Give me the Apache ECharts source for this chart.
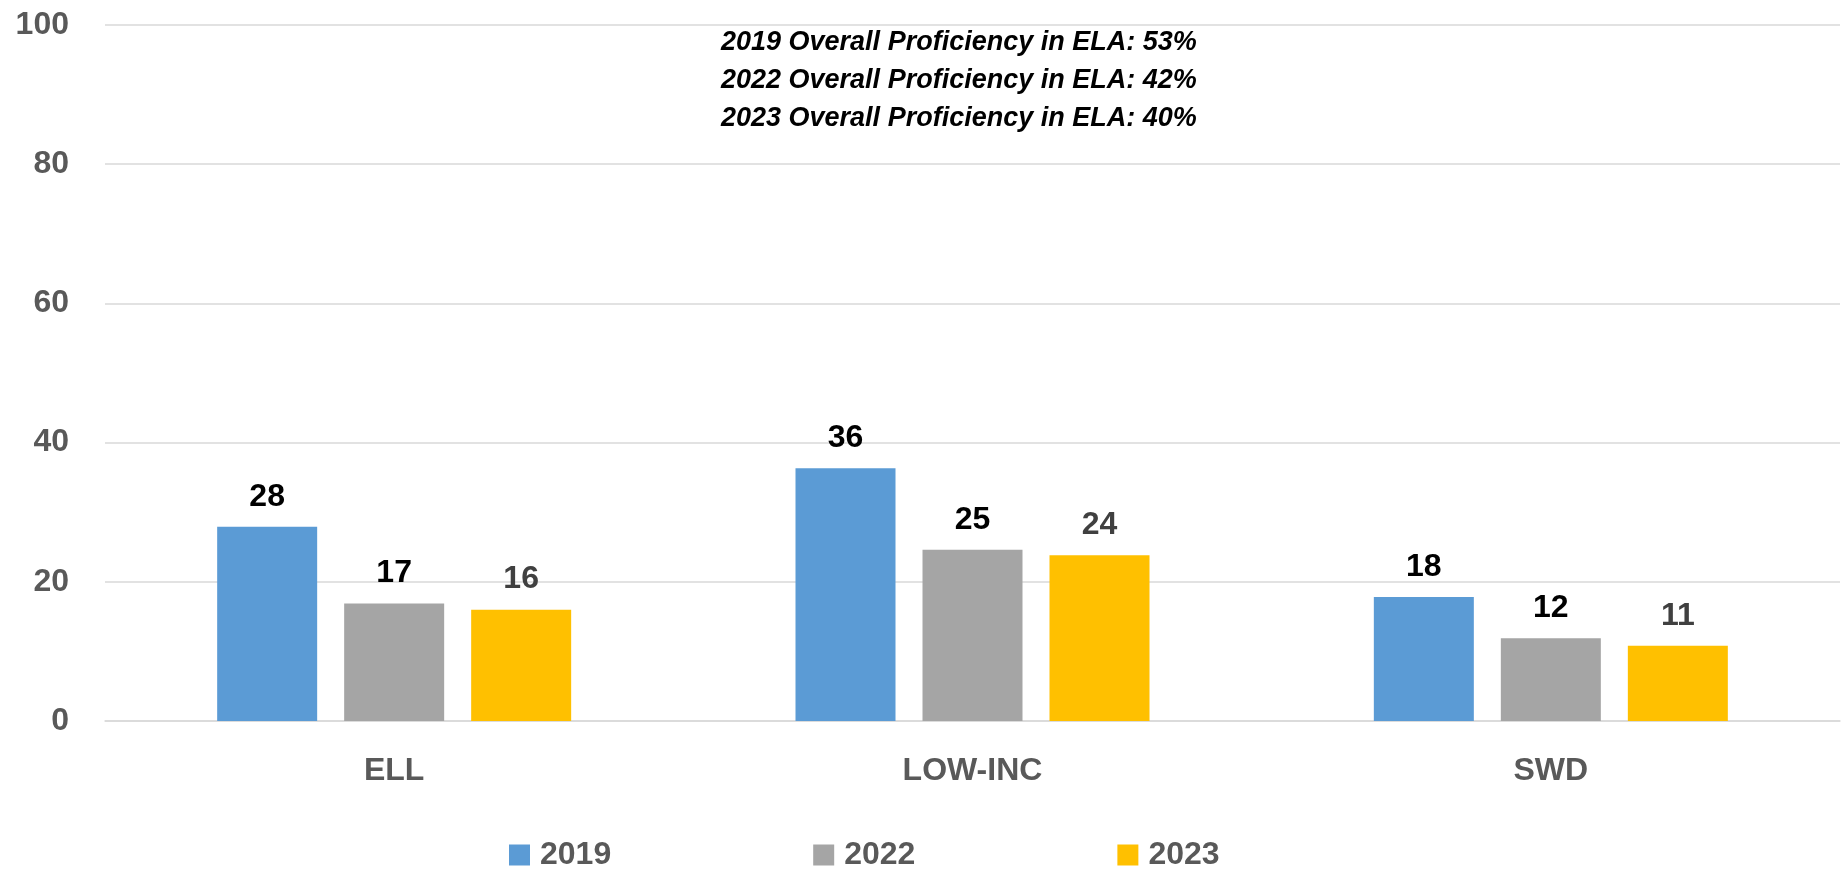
<!DOCTYPE html>
<html>
<head>
<meta charset="utf-8">
<title>ELA Proficiency by Subgroup</title>
<script src="https://cdn.jsdelivr.net/npm/echarts@6/dist/echarts.min.js"></script>
<style>
  html, body { margin: 0; padding: 0; background: #fff; }
  #chart { width: 1845px; height: 871px; }
</style>
</head>
<body>
<div id="chart"></div>
<script>
// categories / series
const categories = ['ELL', 'LOW-INC', 'SWD']
const years = ['2019', '2022', '2023']
const values2019 = [27.9, 36.3, 17.8]
const values2022 = [16.9, 24.6, 11.9]
const values2023 = [16.0, 23.8, 10.8]
const noteLines = [
  '2019 Overall Proficiency in ELA: 53%',
  '2022 Overall Proficiency in ELA: 42%',
  '2023 Overall Proficiency in ELA: 40%'
]

const colors = ['#5B9BD5', '#A5A5A5', '#FFC000']
const labelColors = ['#000000', '#000000', '#404040']
const font = "'Liberation Sans', Arial, sans-serif"

const chart = echarts.init(document.getElementById('chart'))

const seriesData = [values2019, values2022, values2023]
const series = years.map(function(y, i) {
  return {
    name: y,
    type: 'bar',
    data: seriesData[i],
    barWidth: 100,
    barGap: '27%',
    itemStyle: { color: colors[i] },
    label: {
      show: true,
      position: 'top',
      distance: 14,
      color: labelColors[i],
      fontSize: 32,
      fontWeight: 'bold',
      fontFamily: font,
      formatter: function(p) { return Math.round(p.value) }
    }
  }
})

const option = {
  animation: false,
  // the three overall-proficiency notes, centred a bit right of the middle
  graphic: [{
    type: 'text',
    left: 961 - 240,
    top: 24,
    style: {
      text: noteLines.join('\n'),
      width: 480,
      align: 'center',
      fill: '#000',
      font: "italic bold 27px 'Liberation Sans', sans-serif",
      lineHeight: 38
    }
  }],
  legend: {
    data: years,
    left: 504,
    top: 834,
    itemWidth: 21,
    itemHeight: 21,
    itemGap: 202,
    icon: 'rect',
    textStyle: {
      fontSize: 32,
      fontWeight: 'bold',
      color: '#595959',
      fontFamily: font,
      padding: [0, 0, 0, 5]
    }
  },
  grid: {
    left: 105,
    right: 5,
    top: 25,
    bottom: 150
  },
  xAxis: {
    type: 'category',
    data: categories,
    axisTick: { show: false },
    axisLine: { lineStyle: { color: '#d9d9d9', width: 1.5 } },
    axisLabel: {
      margin: 34,
      fontSize: 32,
      fontWeight: 'bold',
      color: '#595959',
      fontFamily: font
    }
  },
  yAxis: {
    type: 'value',
    min: 0,
    max: 100,
    interval: 20,
    axisLine: { show: false },
    axisTick: { show: false },
    splitLine: { lineStyle: { color: '#d9d9d9', width: 1.5 } },
    axisLabel: {
      margin: 36,
      fontSize: 32,
      fontWeight: 'bold',
      color: '#595959',
      fontFamily: font
    }
  },
  series: series
}

chart.setOption(option)
</script>
</body>
</html>
